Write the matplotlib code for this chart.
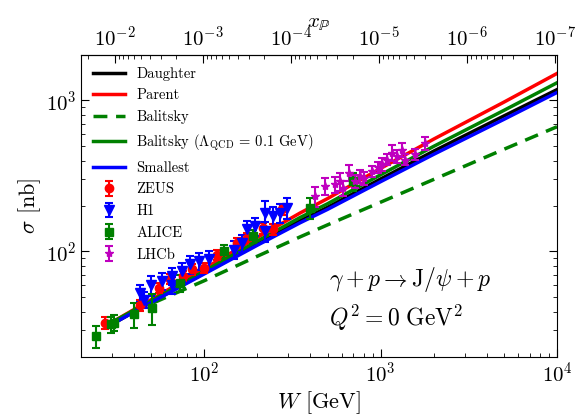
import numpy as np
import matplotlib.pyplot as plt
from matplotlib.ticker import NullFormatter

plt.rcParams["font.family"] = "serif"
plt.rcParams["font.serif"] = ["cmr10"]
plt.rcParams["mathtext.fontset"] = "cm"
plt.rcParams["axes.formatter.use_mathtext"] = True
plt.rcParams["axes.unicode_minus"] = False

# Model curves
W_model = [30, 50, 100, 200, 350, 500, 1000, 2000, 5000, 10000]
sig_daughter = [33, 46, 72, 112, 160, 196, 302, 462, 790, 1180]
sig_parent = [34, 48, 77, 124, 180, 224, 355, 555, 975, 1510]
sig_balitsky = [34, 45, 64, 93, 125, 150, 212, 300, 475, 670]
sig_balitsky_lam = [34, 47, 74, 117, 168, 207, 322, 497, 860, 1310]
sig_smallest = [33, 46, 71, 110, 155, 190, 290, 440, 750, 1130]

# Data
W_zeus = [27.5, 43, 55, 64, 76, 85, 99, 118, 153, 174, 215, 245, 276]
sig_zeus = [33.7, 43.9, 57.5, 66, 69, 76, 78, 95, 114, 123, 143, 140, 190]
err_zeus = [3, 3.5, 4.5, 5, 5, 6, 6, 7, 9, 10, 12, 12, 16]

W_h1 = [43, 45.5, 50, 57.5, 65.6, 65.6, 74.7, 83.3, 93, 106, 147, 163, 174, 194, 220, 222, 245, 270, 294]
sig_h1 = [53, 48, 60, 63.6, 69, 60, 74, 82, 86, 88.5, 103, 114, 140, 147, 180, 136, 171, 180, 195]
err_h1 = [7, 6, 9, 8, 9, 8, 10, 11, 11, 12, 14, 15, 20, 20, 35, 20, 25, 25, 30]

W_alice = [24.2, 29.4, 30.9, 39.8, 50.5, 73, 130, 190, 395, 700]
sig_alice = [27.5, 32.9, 33.7, 38.3, 42.4, 62, 100, 126, 195, 292]
err_alice = [4.5, 4, 4, 7, 10, 8, 10, 12, 30, 40]

W_lhcb = [425, 485, 552, 589, 615, 664, 715, 764, 800, 890, 970, 1012, 1083, 1155, 1235, 1320, 1370, 1565, 1790]
sig_lhcb = [232, 270, 278, 292, 264, 332, 292, 315, 307, 340, 360, 378, 406, 450, 428, 473, 406, 440, 523]
err_lhcb = [35, 35, 35, 40, 30, 40, 30, 30, 30, 30, 30, 35, 35, 55, 40, 50, 35, 35, 50]

xp_ticks = [1e-2, 1e-3, 1e-4, 1e-5, 1e-6, 1e-7]

M2 = 3.097 ** 2

fig = plt.figure(figsize=(5.79, 4.17), dpi=100)
ax = fig.add_axes([0.140, 0.144, 0.822, 0.724])

lw = 2.5
ax.plot(W_model, sig_daughter, color="black", lw=lw, label="Daughter")
ax.plot(W_model, sig_parent, color="red", lw=lw, label="Parent")
ax.plot(W_model, sig_balitsky, color="green", lw=lw, ls=(0, (4, 2.5)), label="Balitsky")
ax.plot(W_model, sig_balitsky_lam, color="green", lw=lw,
        label=r"Balitsky ($\Lambda_{\rm QCD}$ = 0.1 GeV)")
ax.plot(W_model, sig_smallest, color="blue", lw=lw, label="Smallest")

ebkw = dict(ls="none", capsize=3, elinewidth=1.5, capthick=1.5)
ax.errorbar(W_zeus, sig_zeus, yerr=err_zeus, fmt="o", color="red", ms=6, label="ZEUS", **ebkw)
ax.errorbar(W_h1, sig_h1, yerr=err_h1, fmt="v", color="blue", ms=7, label="H1", **ebkw)
ax.errorbar(W_alice, sig_alice, yerr=err_alice, fmt="s", color="green", ms=6, label="ALICE", **ebkw)
ax.errorbar(W_lhcb, sig_lhcb, yerr=err_lhcb, fmt="*", color="m", ms=6, label="LHCb", **ebkw)

ax.set_xscale("log")
ax.set_yscale("log")
ax.set_xlim(20, 1e4)
ax.set_ylim(20, 2000)
ax.set_xlabel(r"$W$ [GeV]", fontsize=16, labelpad=2)
ax.set_ylabel(r"$\sigma$ [nb]", fontsize=16, labelpad=2)
ax.tick_params(which="both", direction="in", right=True, top=False, labelsize=15)
ax.tick_params(which="major", length=6)
ax.tick_params(which="minor", length=3)

secax = ax.secondary_xaxis("top", functions=(lambda w: M2 / np.asarray(w) ** 2,
                                              lambda x: np.sqrt(M2 / np.asarray(x))))
secax.set_xticks(xp_ticks)
secax.xaxis.set_minor_formatter(NullFormatter())
secax.tick_params(which="both", direction="in", labelsize=15)
secax.tick_params(which="major", length=6)
secax.tick_params(which="minor", length=3)
secax.set_xlabel(r"$x_{\mathbb{P}}$", fontsize=15, labelpad=-1)

ax.text(0.52, 0.255, r"$\gamma + p \rightarrow \mathrm{J}/\psi + p$", transform=ax.transAxes,
        fontsize=17, va="center")
ax.text(0.52, 0.129, r"$Q^2 = 0\ \mathrm{GeV}^2$", transform=ax.transAxes,
        fontsize=17, va="center")

ax.legend(loc="upper left", frameon=False, fontsize=10.5, labelspacing=0.55,
          handlelength=2.2, borderaxespad=0.4)

plt.savefig("out.png", dpi=100)
plt.close()
